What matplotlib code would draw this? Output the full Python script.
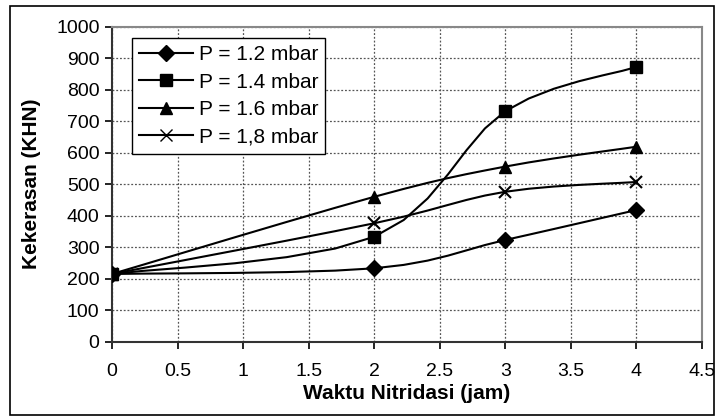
import numpy as np
import matplotlib
matplotlib.use("Agg")
import matplotlib.pyplot as plt
from matplotlib.patches import Rectangle

plt.rcParams['font.family'] = ['Liberation Sans', 'DejaVu Sans']

x = [0, 2, 3, 4]
labels = ["P = 1.2 mbar", "P = 1.4 mbar", "P = 1.6 mbar", "P = 1,8 mbar"]
y12 = [215, 233, 323, 418]
y14 = [215, 333, 732, 872]
y16 = [215, 460, 556, 619]
y18 = [215, 376, 476, 507]
series = [y12, y14, y16, y18]
markers = ["D", "s", "^", "x"]
msizes = [8, 8, 9, 9]


def smooth(xs, ys, n=6):
    # Excel-like Bezier smoothing through the data points
    xs = np.asarray(xs, float)
    ys = np.asarray(ys, float)
    px, py = [xs[0]], [ys[0]]
    m = len(xs)
    for i in range(m - 1):
        p0 = np.array([xs[max(i - 1, 0)], ys[max(i - 1, 0)]])
        p1 = np.array([xs[i], ys[i]])
        p2 = np.array([xs[i + 1], ys[i + 1]])
        p3 = np.array([xs[min(i + 2, m - 1)], ys[min(i + 2, m - 1)]])
        c1 = p1 + (p2 - p0) / 6.0
        c2 = p2 - (p3 - p1) / 6.0
        for t in np.linspace(0, 1, n + 1)[1:]:
            b = ((1 - t) ** 3) * p1 + 3 * ((1 - t) ** 2) * t * c1 + 3 * (1 - t) * t ** 2 * c2 + t ** 3 * p2
            px.append(b[0])
            py.append(b[1])
    return px, py


fig = plt.figure(figsize=(7.18, 4.2), dpi=100)
ax = fig.add_axes([112 / 718, 1 - 341.7 / 420, (702 - 112) / 718, (341.7 - 26.7) / 420])

for ys, mk, ms, lab in zip(series, markers, msizes, labels):
    sx, sy = smooth(x, ys)
    ax.plot(sx, sy, color='black', lw=1.5, zorder=3)
    ax.plot(x, ys, linestyle='none', marker=mk, ms=ms, color='black',
            mew=1.5 if mk == 'x' else 1, zorder=4)
    ax.plot([], [], color='black', lw=1.5, marker=mk, ms=ms, label=lab)

ax.set_xlim(0, 4.5)
ax.set_ylim(0, 1000)
ax.set_xticks(np.arange(0, 4.51, 0.5))
ax.set_xticklabels(["0", "0.5", "1", "1.5", "2", "2.5", "3", "3.5", "4", "4.5"])
ax.set_yticks(np.arange(0, 1001, 100))
ax.grid(True, linestyle=(0, (1.5, 1.5)), color='#555555', lw=0.9)
ax.set_axisbelow(True)
ax.tick_params(axis='both', direction='out', length=5, width=1.2, labelsize=14, colors='black')
ax.tick_params(axis='x', pad=10)
ax.tick_params(axis='y', pad=4)
for s in ['left', 'bottom']:
    ax.spines[s].set_color('#333333')
    ax.spines[s].set_linewidth(1.5)
for s in ['top', 'right']:
    ax.spines[s].set_color('#888888')
    ax.spines[s].set_linewidth(1.5)

ax.set_xlabel("Waktu Nitridasi (jam)", fontsize=15, fontweight='bold', labelpad=3)
ax.set_ylabel("Kekerasan (KHN)", fontsize=15, fontweight='bold', labelpad=11)

leg = ax.legend(loc='upper left', bbox_to_anchor=((132 - 112) / 590, 1 - (38 - 26.7) / 315),
                fontsize=15, frameon=True, fancybox=False, framealpha=1,
                edgecolor='black', handlelength=2.6, borderpad=0.35, labelspacing=0.4,
                handletextpad=0.25, borderaxespad=0)
leg.get_frame().set_linewidth(1.0)

fig.patches.append(Rectangle((10 / 718, 5 / 420), (714 - 10) / 718, (414 - 5) / 420,
                             transform=fig.transFigure, fill=False, edgecolor='black', lw=1.2))

fig.savefig("out.png", dpi=100)
